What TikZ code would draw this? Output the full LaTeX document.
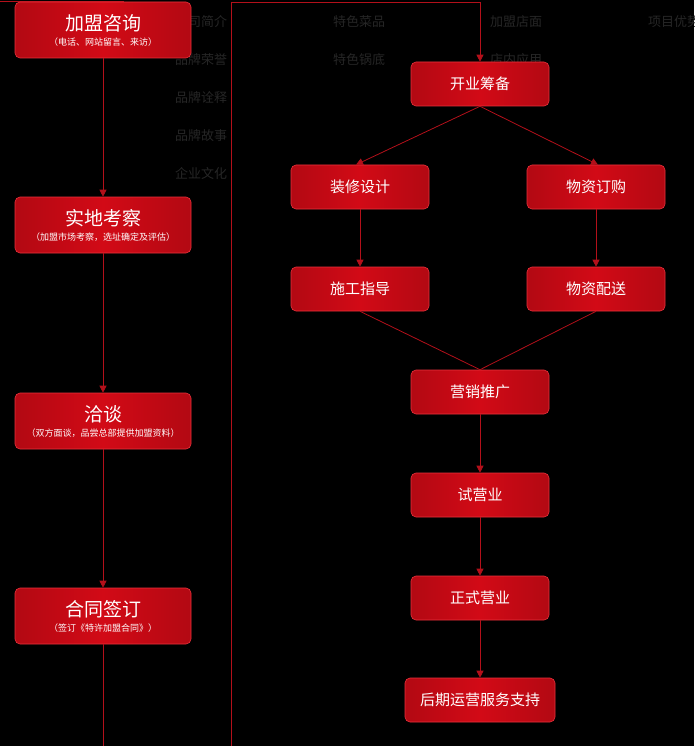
\documentclass[tikz,border=0pt]{standalone}
\usepackage{fontspec}
\newfontfamily\cjk{Noto Sans CJK SC}
\usetikzlibrary{positioning,arrows.meta}
\definecolor{boxred}{HTML}{D20A16}
\definecolor{edgered}{HTML}{E8323C}
\definecolor{linered}{HTML}{B3101A}
\definecolor{menugray}{HTML}{262626}

\begin{document}
\begin{tikzpicture}[x=1pt,y=-1pt,
  stepbox/.style={rectangle, rounded corners=5pt, draw=edgered, line width=0.6pt,
    left color=boxred!85!black, right color=boxred!85!black, middle color=boxred,
    text=white, font=\cjk\fontsize{15}{17}\selectfont, align=center},
  leftbox/.style={stepbox, minimum width=176pt, minimum height=56pt},
  rightbox/.style={stepbox, minimum width=138pt, minimum height=44pt},
  menu/.style={anchor=west, text=menugray, font=\cjk\fontsize{13}{15}\selectfont, inner sep=0pt},
  flow/.style={draw=linered, line width=0.8pt, -{Triangle[length=7pt,width=7pt]}},
  plain/.style={draw=linered, line width=0.8pt}]
 \fill[black] (0,0) rectangle (694,746);
 \useasboundingbox (0,0) rectangle (694,746);
 % the menu behind
 \foreach \t/\x/\y in {公司简介/175/22, 特色菜品/333/22, 加盟店面/490/22, 项目优势/648/22,
   品牌荣誉/175/60, 特色锅底/333/60, 店内应用/490/60,
   品牌诠释/175/98, 品牌故事/175/136, 企业文化/175/174}
   { \node[menu] at (\x,\y) {\t}; }
 \draw[plain] (0,1) -- (124,1);

 % left column
 \node[leftbox] (zixun) at (103,30) {{\fontsize{19}{21}\selectfont 加盟咨询}\\[-2pt]{\fontsize{9}{11}\selectfont （电话、网站留言、来访）}};
 \node[leftbox] (kaocha) at (103,225) {{\fontsize{19}{21}\selectfont 实地考察}\\[-2pt]{\fontsize{9}{11}\selectfont （加盟市场考察，选址确定及评估）}};
 \node[leftbox] (qiatan) at (103,421) {{\fontsize{19}{21}\selectfont 洽谈}\\[-2pt]{\fontsize{9}{11}\selectfont （双方面谈，品尝总部提供加盟资料）}};
 \node[leftbox] (hetong) at (103,616) {{\fontsize{19}{21}\selectfont 合同签订}\\[-2pt]{\fontsize{9}{11}\selectfont （签订《特许加盟合同》）}};
 \coordinate (lefttail) at (103,746);
 \draw[flow] (zixun) -- (kaocha);
 \draw[flow] (kaocha) -- (qiatan);
 \draw[flow] (qiatan) -- (hetong);
 \draw[plain] (hetong) -- (lefttail);

 % right column
 \node[rightbox] (choubei) at (480,84) {开业筹备};
 \node[rightbox] (zhuangxiu) at (360,187) {装修设计};
 \node[rightbox] (dinggou) at (596,187) {物资订购};
 \node[rightbox] (shigong) at (360,289) {施工指导};
 \node[rightbox] (peisong) at (596,289) {物资配送};
 \node[rightbox] (tuiguang) at (480,392) {营销推广};
 \node[rightbox] (shiying) at (480,495) {试营业};
 \node[rightbox] (zhengshi) at (480,598) {正式营业};
 \node[rightbox, minimum width=150pt] (houqi) at (480,700) {后期运营服务支持};

 \coordinate (loopfoot) at (231,746);
 \draw[flow] (loopfoot) -- (231,2) -- (480,2) -- (choubei.north);
 \draw[flow] (choubei.south) -- (zhuangxiu.north -| 356,0);
 \draw[flow] (choubei.south) -- (dinggou.north -| 598,0);
 \draw[flow] (zhuangxiu) -- (shigong);
 \draw[flow] (dinggou) -- (peisong);
 \draw[plain] (shigong.south) -- (tuiguang.north);
 \draw[plain] (peisong.south) -- (tuiguang.north);
 \draw[flow] (tuiguang) -- (shiying);
 \draw[flow] (shiying) -- (zhengshi);
 \draw[flow] (zhengshi) -- (houqi);
\end{tikzpicture}
\end{document}
